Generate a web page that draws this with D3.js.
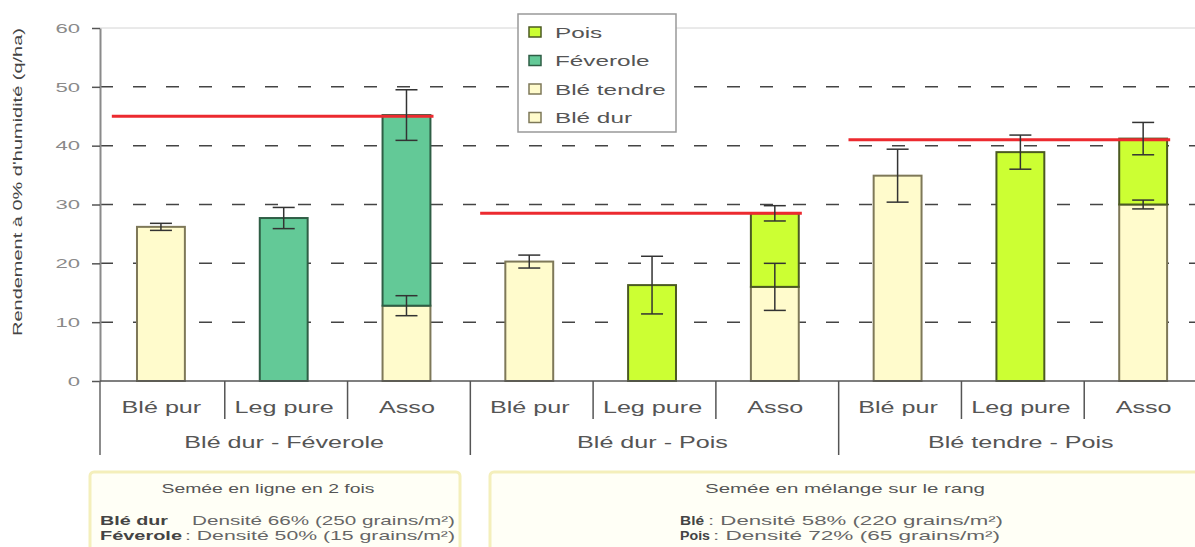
<!DOCTYPE html>
<html><head><meta charset="utf-8">
<script src="https://cdn.jsdelivr.net/npm/d3@7"></script>
<style>body{margin:0;background:#fff;} svg{display:block;font-family:"Liberation Sans",Arial,sans-serif;}</style>
</head><body><svg id="c" width="1195" height="547"></svg>
<script>
// ---- data ----
const groups = ["Blé dur - Féverole", "Blé dur - Pois", "Blé tendre - Pois"];
const treatments = ["Blé pur", "Leg pure", "Asso"];
const cerealSpecies = ["Blé dur", "Blé dur", "Blé tendre"];
const legumeSpecies = ["Féverole", "Pois", "Pois"];
const cerealValues = [26.2, 0, 12.8, 20.3, 0, 16.0, 34.9, 0, 30.0];
const legumeValues = [0, 27.7, 32.4, 0, 16.3, 12.5, 0, 38.9, 11.2];
const cerealErr = [0.6, null, 1.7, 1.1, null, 4.0, 4.5, null, 0.75];
const legumeErr = [null, 1.8, 4.3, null, 4.9, 1.3, null, 2.9, 2.75];
const referenceYield = [45.0, 28.5, 41.0];
const yTicks = [0, 10, 20, 30, 40, 50, 60];
const seriesKeys = ["Blé dur", "Blé tendre", "Féverole", "Pois"];
const legendOrder = ["Pois", "Féverole", "Blé tendre", "Blé dur"];
const yTitle = "Rendement à 0% d'humidité (q/ha)";
const noteTitles = ["Semée en ligne en 2 fois", "Semée en mélange sur le rang"];
const noteLabels = [["Blé dur", "Féverole"], ["Blé", "Pois"]];
const noteTexts = [["Densité 66% (250 grains/m²)", ": Densité 50% (15 grains/m²)"],
                   [": Densité 58% (220 grains/m²)", ": Densité 72% (65 grains/m²)"]];

// ---- styles ----
const fills = {"Blé dur": "#fffbcc", "Blé tendre": "#fffbcc", "Féverole": "#63c997", "Pois": "#ccff33"};
const strokes = {"Blé dur": "#7e7858", "Blé tendre": "#7e7858", "Féverole": "#2f5e45", "Pois": "#4b5a22"};

const svg = d3.select("#c");
const W = 1195, H = 547;
const keys = [];
groups.forEach((g, gi) => treatments.forEach(t => keys.push(gi + "|" + t)));

const x = d3.scaleBand().domain(keys).range([102, 1207]).padding(0);
const y = d3.scaleLinear().domain([0, 60]).range([381, 28]);
const bw = x.bandwidth();

function fitK(sel, k) {
  sel.each(function () {
    const w = this.getComputedTextLength();
    d3.select(this).attr("textLength", w * k).attr("lengthAdjust", "spacingAndGlyphs");
  });
}
function fitW(sel, w) { sel.attr("textLength", w).attr("lengthAdjust", "spacingAndGlyphs"); }

// ---- gridlines ----
svg.append("g").selectAll("line").data(yTicks.filter(v => v > 0 && v < 60)).join("line")
  .attr("x1", 100).attr("x2", W).attr("y1", d => y(d)).attr("y2", d => y(d))
  .attr("stroke", "#444").attr("stroke-width", 1.5).attr("stroke-dasharray", "13,20");
svg.append("line").attr("x1", 100).attr("x2", W).attr("y1", y(60)).attr("y2", y(60))
  .attr("stroke", "#d4d4d4").attr("stroke-width", 1);

// ---- stacked bars ----
const rows = keys.map((k, i) => {
  const gi = Math.floor(i / 3);
  const r = {key: k};
  seriesKeys.forEach(s => r[s] = 0);
  r[cerealSpecies[gi]] += cerealValues[i];
  r[legumeSpecies[gi]] += legumeValues[i];
  return r;
});
const stacked = d3.stack().keys(seriesKeys)(rows);
const barX = k => x(k) + bw * 0.285, barW = bw * 0.39;
svg.append("g").selectAll("g").data(stacked).join("g")
  .attr("fill", d => fills[d.key]).attr("stroke", d => strokes[d.key]).attr("stroke-width", 2)
  .selectAll("rect").data(d => d.filter(p => p[1] - p[0] > 0)).join("rect")
  .attr("x", d => barX(d.data.key)).attr("width", barW)
  .attr("y", d => y(d[1])).attr("height", d => y(d[0]) - y(d[1]));

// ---- reference lines ----
svg.append("g").selectAll("line").data(referenceYield).join("line")
  .attr("x1", (d, gi) => x(keys[gi * 3]) + bw * 0.08)
  .attr("x2", (d, gi) => x(keys[gi * 3 + 2]) + bw * 0.7)
  .attr("y1", d => y(d)).attr("y2", d => y(d))
  .attr("stroke", "#ec2a2f").attr("stroke-width", 3);

// ---- error bars ----
const errs = [];
keys.forEach((k, i) => {
  if (cerealErr[i] != null) errs.push({k, v: cerealValues[i], e: cerealErr[i]});
  if (legumeErr[i] != null) errs.push({k, v: cerealValues[i] + legumeValues[i], e: legumeErr[i]});
});
const eg = svg.append("g").attr("stroke", "#333").attr("stroke-width", 1.5);
errs.forEach(d => {
  const cx = barX(d.k) + barW / 2;
  eg.append("line").attr("x1", cx).attr("x2", cx).attr("y1", y(d.v + d.e)).attr("y2", y(d.v - d.e));
  [d.v + d.e, d.v - d.e].forEach(v => eg.append("line")
    .attr("x1", cx - 11).attr("x2", cx + 11).attr("y1", y(v)).attr("y2", y(v)));
});

// ---- y axis ----
const ya = svg.append("g").attr("transform", "translate(100,0)")
  .call(d3.axisLeft(y).tickValues(yTicks).tickSizeInner(8).tickSizeOuter(0).tickPadding(12));
ya.select(".domain").attr("stroke", "#8a8a8a").attr("stroke-width", 2);
ya.selectAll(".tick line").attr("stroke", "#555").attr("stroke-width", 1.5);
ya.selectAll(".tick text").attr("font-size", 13).attr("fill", "#8a8a8a")
  .attr("font-family", "Liberation Sans, Arial, sans-serif").call(fitK, 1.7);
svg.append("line").attr("x1", 100).attr("x2", 100).attr("y1", y(0)).attr("y2", 455)
  .attr("stroke", "#666").attr("stroke-width", 1.5);

svg.append("text").attr("transform", "translate(22,182) rotate(-90)")
  .attr("text-anchor", "middle").attr("font-size", 12.5).attr("fill", "#444")
  .text(yTitle).call(fitW, 308);

// ---- x axis ----
const xa = svg.append("g").attr("transform", `translate(0,${y(0)})`)
  .call(d3.axisBottom(x).tickSize(0).tickPadding(21).tickFormat(k => k.split("|")[1]));
xa.select(".domain").remove();
xa.selectAll(".tick").attr("transform", k => `translate(${x(k) + bw / 2 - 2},0)`);
xa.selectAll(".tick text").attr("font-size", 16).attr("fill", "#555")
  .attr("font-family", "Liberation Sans, Arial, sans-serif").call(fitK, 1.57);
svg.append("line").attr("x1", 100).attr("x2", W).attr("y1", y(0)).attr("y2", y(0))
  .attr("stroke", "#555").attr("stroke-width", 1.5);
// separators
svg.append("g").selectAll("line").data(keys.slice(1).concat(["end"])).join("line")
  .attr("x1", k => k === "end" ? x.range()[1] : x(k))
  .attr("x2", k => k === "end" ? x.range()[1] : x(k))
  .attr("y1", y(0))
  .attr("y2", (k, i) => ((i + 1) % 3 === 0) ? 455 : 419)
  .attr("stroke", "#555").attr("stroke-width", 1.5);
// group labels
svg.append("g").selectAll("text").data(groups).join("text")
  .attr("x", (g, gi) => (x(keys[gi * 3]) + x(keys[gi * 3 + 2]) + bw) / 2 - 2)
  .attr("y", 448).attr("text-anchor", "middle").attr("font-size", 16).attr("fill", "#555")
  .text(d => d).call(fitK, 1.57);

// ---- legend ----
const lg = svg.append("g");
lg.append("rect").attr("x", 518).attr("y", 14).attr("width", 158).attr("height", 118)
  .attr("fill", "#fff").attr("stroke", "#999").attr("stroke-width", 1.5);
legendOrder.forEach((s, i) => {
  const cy = 32 + i * 28.5;
  lg.append("rect").attr("x", 529).attr("y", cy - 5).attr("width", 12).attr("height", 10)
    .attr("fill", fills[s]).attr("stroke", strokes[s]).attr("stroke-width", 1.5);
  lg.append("text").attr("x", 555).attr("y", cy + 5.5).attr("font-size", 15).attr("fill", "#555")
    .text(s).call(fitK, 1.62);
});

// ---- notes boxes ----
const boxes = [{x: 90, w: 370, cx: 268, lx: [100, 100], tx: [192, 185], tw: [263, 270], lw: [68, 82], tt: 213},
               {x: 490, w: 720, cx: 845, lx: [680, 680], tx: [708, 713], tw: [295, 287], lw: [24, 30], tt: 280}];
boxes.forEach((b, bi) => {
  svg.append("rect").attr("x", b.x).attr("y", 472).attr("width", b.w).attr("height", 90).attr("rx", 4)
    .attr("fill", "#fffff6").attr("stroke", "#f4efbb").attr("stroke-width", 3);
  svg.append("text").attr("x", b.cx).attr("y", 493).attr("text-anchor", "middle")
    .attr("font-size", 13).attr("fill", "#555").text(noteTitles[bi]).call(fitW, b.tt);
  [0, 1].forEach(j => {
    const yy = 525 + j * 15;
    svg.append("text").attr("x", b.lx[j]).attr("y", yy).attr("font-size", 13).attr("font-weight", "bold")
      .attr("fill", "#444").text(noteLabels[bi][j]).call(fitW, b.lw[j]);
    svg.append("text").attr("x", b.tx[j]).attr("y", yy).attr("font-size", 13)
      .attr("fill", "#666").text(noteTexts[bi][j]).call(fitW, b.tw[j]);
  });
});
</script></body></html>
